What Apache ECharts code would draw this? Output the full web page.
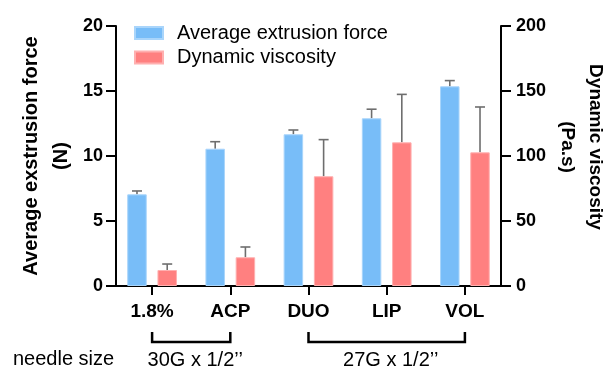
<!DOCTYPE html>
<html>
<head>
<meta charset="utf-8">
<script src="https://cdn.jsdelivr.net/npm/echarts@6/dist/echarts.min.js"></script>
<style>
  html, body { margin: 0; padding: 0; background: #fff; }
  #chart { width: 608px; height: 367px; }
</style>
</head>
<body>
<div id="chart"></div>
<script>
const categories = ["1.8%", "ACP", "DUO", "LIP", "VOL"];
const forceMean = [7.05, 10.56, 11.67, 12.9, 15.36];
const forceErr = [0.26, 0.54, 0.33, 0.7, 0.44];
const viscMean = [12.3, 22.1, 84.4, 110.5, 102.8];
const viscErr = [4.6, 7.9, 28.2, 36.9, 34.9];
const leftTicks = [0, 5, 10, 15, 20];
const rightTicks = [0, 50, 100, 150, 200];
// needle groups: [first category, last category, label]
const needleGroups = [
  [0, 1, "30G x 1/2’’"],
  [2, 4, "27G x 1/2’’"]
];

const FONT = "'Liberation Sans', Arial, Helvetica, sans-serif";
const BAR_W = 19.5;
const BAR_GAP = 0.55;
const blue = "#78bdf8";
const red = "#ff8080";

const myChart = echarts.init(document.getElementById("chart"));

// error bars, drawn next to the bar of the same series
function errorRender(side) {
  return function (params, api) {
    const cat = api.value(0);
    const top = api.coord([cat, api.value(1) + api.value(2)]);
    const base = api.coord([cat, api.value(1)]);
    const shift = side * (BAR_W + BAR_W * BAR_GAP) / 2;
    const x = top[0] + shift;
    const style = { stroke: "#6e6e6e", lineWidth: 1.6 };
    return {
      type: "group",
      children: [
        { type: "line", shape: { x1: x, y1: base[1], x2: x, y2: top[1] }, style: style },
        { type: "line", shape: { x1: x - 5, y1: top[1], x2: x + 5, y2: top[1] }, style: style }
      ]
    };
  };
}

const axisLine = { show: true, lineStyle: { color: "#000", width: 2 } };

const option = {
  animation: false,
  textStyle: { fontFamily: FONT },
  grid: { left: 113, right: 104, top: 26, bottom: 81, containLabel: false, outerBoundsMode: "none" },
  legend: {
    orient: "vertical",
    left: 134,
    top: 23,
    padding: 0,
    itemWidth: 28,
    itemHeight: 12,
    itemGap: 4.5,
    icon: "rect",
    textStyle: { fontFamily: FONT, fontSize: 20, color: "#000", padding: [0, 0, 0, 9] },
    data: ["Average extrusion force", "Dynamic viscosity"]
  },
  xAxis: {
    type: "category",
    data: categories,
    axisLine: axisLine,
    axisTick: { show: true, alignWithLabel: true, length: 9, lineStyle: { color: "#000", width: 2 } },
    axisLabel: { color: "#000", fontWeight: "bold", fontSize: 19, margin: 16, fontFamily: FONT }
  },
  yAxis: [
    {
      type: "value",
      min: 0,
      max: 20,
      interval: 5,
      offset: -3,
      name: "Average exstrusion force\n(N)",
      nameLocation: "middle",
      nameRotate: 90,
      nameGap: 40,
      nameMoveOverlap: false,
      nameTextStyle: { color: "#000", fontWeight: "bold", fontSize: 20, lineHeight: 30, fontFamily: FONT },
      axisLine: axisLine,
      axisTick: { show: true, length: 10, lineStyle: { color: "#000", width: 2 } },
      axisLabel: { color: "#000", fontWeight: "bold", fontSize: 18, margin: 13, fontFamily: FONT,
        formatter: v => leftTicks.includes(v) ? String(v) : "" },
      splitLine: { show: false }
    },
    {
      type: "value",
      position: "right",
      min: 0,
      max: 200,
      interval: 50,
      offset: -3,
      name: "Dynamic viscosity\n(Pa.s)",
      nameLocation: "middle",
      nameRotate: -90,
      nameGap: 52,
      nameMoveOverlap: false,
      nameTextStyle: { color: "#000", fontWeight: "bold", fontSize: 19, lineHeight: 28, fontFamily: FONT,
        padding: [0, 18, 0, 0] },
      axisLine: axisLine,
      axisTick: { show: true, length: 10, lineStyle: { color: "#000", width: 2 } },
      axisLabel: { color: "#000", fontWeight: "bold", fontSize: 18, margin: 15, fontFamily: FONT,
        formatter: v => rightTicks.includes(v) ? String(v) : "" },
      splitLine: { show: false }
    }
  ],
  series: [
    {
      name: "Average extrusion force",
      type: "bar",
      yAxisIndex: 0,
      barWidth: BAR_W,
      barGap: (BAR_GAP * 100) + "%",
      itemStyle: { color: blue, borderColor: "#a9d5fb", borderWidth: 1 },
      data: forceMean,
      z: 2
    },
    {
      name: "Dynamic viscosity",
      type: "bar",
      yAxisIndex: 1,
      barWidth: BAR_W,
      barGap: (BAR_GAP * 100) + "%",
      itemStyle: { color: red, borderColor: "#ffb0b0", borderWidth: 1 },
      data: viscMean,
      z: 2
    },
    {
      type: "custom",
      yAxisIndex: 0,
      renderItem: errorRender(-1),
      data: forceMean.map((v, i) => [i, v, forceErr[i]]),
      z: 1
    },
    {
      type: "custom",
      yAxisIndex: 1,
      renderItem: errorRender(1),
      data: viscMean.map((v, i) => [i, v, viscErr[i]]),
      z: 1
    }
  ]
};

myChart.setOption(option);

// needle size brackets under the category labels
function drawBrackets() {
  const elements = [];
  const yTop = 332, yLine = 342;
  needleGroups.forEach(g => {
    const x1 = myChart.convertToPixel({ xAxisIndex: 0 }, categories[g[0]]);
    const x2 = myChart.convertToPixel({ xAxisIndex: 0 }, categories[g[1]]);
    elements.push({
      type: "polyline",
      shape: { points: [[x1, yTop], [x1, yLine], [x2, yLine], [x2, yTop]] },
      style: { stroke: "#000", lineWidth: 2.5, fill: null }
    });
    elements.push({
      type: "text",
      x: (x1 + x2) / 2 + 4,
      y: 360,
      style: { text: g[2], fontSize: 20, fontFamily: FONT, fill: "#000", align: "center", verticalAlign: "middle" }
    });
  });
  elements.push({
    type: "text",
    x: 13,
    y: 359,
    style: { text: "needle size", fontSize: 20, fontFamily: FONT, fill: "#000", align: "left", verticalAlign: "middle" }
  });
  myChart.setOption({ graphic: elements });
}
drawBrackets();
</script>
</body>
</html>
